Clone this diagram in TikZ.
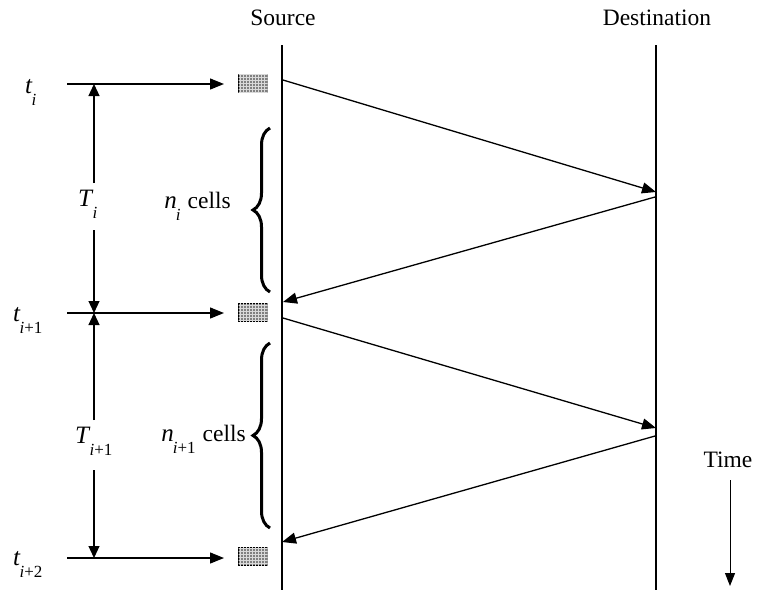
\documentclass[tikz,border=0pt]{standalone}
\usepackage{fontspec}
\setmainfont{Liberation Serif}
\usetikzlibrary{arrows.meta,decorations.pathreplacing,patterns}

% italic symbol with a lowered subscript
\newcommand\symsub[2]{{\fontsize{25}{28}\selectfont\textit{#1}}\kern-1pt\raisebox{-0.52em}{\fontsize{17}{17}\selectfont #2}}

\begin{document}
\begin{tikzpicture}[x=1pt,y=-1pt,
  font=\fontsize{23.5}{28}\selectfont,
  lifeline/.style={line width=2pt},
  msg/.style={line width=1.3pt,-{Triangle[length=14pt,width=11pt]}},
  span/.style={line width=1.2pt,-{Triangle[length=12pt,width=11pt]}},
  cellbrace/.style={line width=3pt,decorate,decoration={brace,amplitude=17pt}},
  cellbox/.style={draw=black,line width=0.8pt,minimum width=29pt,minimum height=18pt,inner sep=0pt,
    fill=black!50,postaction={pattern=grid,pattern color=white!70!gray}},
  lbl/.style={inner sep=0pt}]
\useasboundingbox (0,0) rectangle (757,590);

% headers and lifelines
\node[lbl,anchor=base] (src) at (283,25) {Source};
\node[lbl,anchor=base] (dst) at (657,25) {Destination};
\coordinate (s0) at (282,45);  \coordinate (s1) at (282,590);
\coordinate (d0) at (656,45);  \coordinate (d1) at (656,590);
\draw[lifeline] (s0) -- (s1);
\draw[lifeline] (d0) -- (d1);

% cell blocks sent at the start of each cycle
\node[cellbox] (c0) at (253,83) {};
\node[cellbox] (c1) at (253,312) {};
\node[cellbox] (c2) at (253,556) {};

% time instants
\node[lbl,anchor=base west] (t0) at (25,93) {\symsub{t}{\textit{i}}};
\node[lbl,anchor=base west] (t1) at (13,321) {\symsub{t}{\textit{i}+1}};
\node[lbl,anchor=base west] (t2) at (13,565) {\symsub{t}{\textit{i}+2}};
\coordinate (h0s) at (67,84);  \coordinate (h0e) at (224,84);
\coordinate (h1s) at (67,313); \coordinate (h1e) at (224,313);
\coordinate (h2s) at (67,558); \coordinate (h2e) at (224,558);
\draw[msg] (h0s) -- (h0e);
\draw[msg] (h1s) -- (h1e);
\draw[msg] (h2s) -- (h2e);

% cycle lengths
\node[lbl,anchor=base west] (T0) at (78,206) {\symsub{T}{\textit{i}}};
\node[lbl,anchor=base west] (T1) at (75,443) {\symsub{T}{\textit{i}+1}};
\coordinate (v0a) at (94,183); \coordinate (v0t) at (94,84);
\coordinate (v0b) at (94,230); \coordinate (v0u) at (94,313);
\coordinate (v1a) at (94,420); \coordinate (v1t) at (94,313);
\coordinate (v1b) at (94,470); \coordinate (v1u) at (94,558);
\draw[span] (v0a) -- (v0t);
\draw[span] (v0b) -- (v0u);
\draw[span] (v1a) -- (v1t);
\draw[span] (v1b) -- (v1u);

% forward cells and returning feedback
\coordinate (f0s) at (283,80);  \coordinate (f0e) at (656,192);
\coordinate (r0s) at (655,197); \coordinate (r0e) at (283,302);
\coordinate (f1s) at (283,318); \coordinate (f1e) at (656,428);
\coordinate (r1s) at (655,436); \coordinate (r1e) at (282,542);
\draw[msg] (f0s) -- (f0e);
\draw[msg] (r0s) -- (r0e);
\draw[msg] (f1s) -- (f1e);
\draw[msg] (r1s) -- (r1e);

% cells transmitted per cycle
\coordinate (b0a) at (270,292); \coordinate (b0b) at (270,128);
\coordinate (b1a) at (270,528); \coordinate (b1b) at (270,343);
\draw[cellbrace] (b0a) -- (b0b);
\draw[cellbrace] (b1a) -- (b1b);
\node[lbl,anchor=base east] (n0) at (231,208) {\symsub{n}{\textit{i}}\hspace{0.3em}cells};
\node[lbl,anchor=base east] (n1) at (246,441) {\symsub{n}{\textit{i}+1}\hspace{0.3em}cells};

% time axis
\node[lbl,anchor=base] (time) at (728,467) {Time};
\coordinate (ta) at (730,480); \coordinate (tb) at (730,586);
\draw[line width=1pt,-{Triangle[length=13pt,width=10pt]}] (ta) -- (tb);
\end{tikzpicture}
\end{document}
